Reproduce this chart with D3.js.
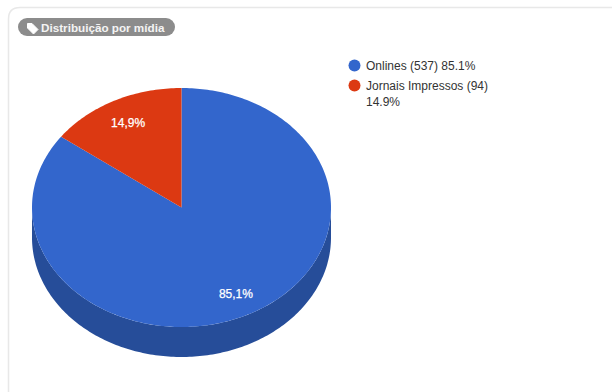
<!DOCTYPE html>
<html>
<head>
<meta charset="utf-8">
<script src="https://cdn.jsdelivr.net/npm/d3@7/dist/d3.min.js"></script>
<style>
html,body{margin:0;padding:0;background:#fff;overflow:hidden}
svg{display:block;font-family:"Liberation Sans",Arial,sans-serif}
</style>
</head>
<body>
<svg id="chart" width="612" height="392"></svg>
<script>
const categories = ["Onlines", "Jornais Impressos"];
const counts = [537, 94];
const legendPercents = ["85.1%", "14.9%"];
const sliceLabels = ["85,1%", "14,9%"];
const sliceColors = ["#3366cc", "#dc3912"];
const sideColors = ["#264d99", "#a52b0e"];
const chartTitle = "Distribuição por mídia";

const svg = d3.select("#chart");

// Card outline behind the chart
svg.append("path")
  .attr("d", "M612,7.5H20Q8.5,7.5 8.5,19V392")
  .attr("fill", "none").attr("stroke", "#e8e8e8").attr("stroke-width", 1.5);

// Title badge with tag icon
svg.append("rect")
  .attr("x", 18).attr("y", 18).attr("width", 157).attr("height", 18).attr("rx", 9)
  .attr("fill", "#8c8c8c");
svg.append("path")
  .attr("d", "M27.5,23.5h4.5l6,6l-4.5,4.5l-6,-6z")
  .attr("fill", "#fff").attr("stroke", "#fff").attr("stroke-width", 1).attr("stroke-linejoin", "round");
svg.append("text")
  .attr("x", 41).attr("y", 31.5)
  .attr("font-size", 11.7).attr("font-weight", 700).attr("fill", "#f4f4f4")
  .text(chartTitle);

// Tilted pie geometry
const cx = 181.5, cy = 207.5, rx = 149.5, ry = 119.5, depth = 30;
const pie = d3.pie().sort(null).value(d => d);
const slices = pie(counts);
const ellipse = (a, dy = 0) => [cx + rx * Math.sin(a), cy - ry * Math.cos(a) + dy];
const pathOf = d3.line();
const step = Math.PI / 180;

function sampleAngles(a0, a1) {
  const n = Math.max(1, Math.ceil((a1 - a0) / step));
  return d3.range(n + 1).map(i => a0 + (a1 - a0) * i / n);
}

// Extruded rim: only the front half of the ellipse shows
const rimLayer = svg.append("g");
slices.forEach((s, i) => {
  const a0 = Math.max(s.startAngle, Math.PI / 2);
  const a1 = Math.min(s.endAngle, 3 * Math.PI / 2);
  if (a1 <= a0) return;
  const angles = sampleAngles(a0, a1);
  const pts = angles.map(a => ellipse(a)).concat(angles.slice().reverse().map(a => ellipse(a, depth)));
  rimLayer.append("path").attr("d", pathOf(pts) + "Z").attr("fill", sideColors[i]);
});

// Top face
const faceLayer = svg.append("g");
slices.forEach((s, i) => {
  const pts = [[cx, cy]].concat(sampleAngles(s.startAngle, s.endAngle).map(a => ellipse(a)));
  faceLayer.append("path").attr("d", pathOf(pts) + "Z").attr("fill", sliceColors[i]);
});

// Slice percentages at the middle of each slice
slices.forEach((s, i) => {
  const mid = (s.startAngle + s.endAngle) / 2;
  const f = 0.8;
  faceLayer.append("text")
    .attr("x", cx + rx * f * Math.sin(mid) + 0.5)
    .attr("y", cy - ry * f * Math.cos(mid) + 5)
    .attr("text-anchor", "middle")
    .attr("font-size", 12).attr("fill", "#fff")
    .attr("stroke", "#fff").attr("stroke-width", 0.25)
    .text(sliceLabels[i]);
});

// Legend
const legendX = 366;
const legend = svg.append("g").attr("font-size", 12).attr("fill", "#333");
legend.append("circle").attr("cx", 354.5).attr("cy", 65.5).attr("r", 6).attr("fill", sliceColors[0]);
legend.append("text").attr("x", legendX).attr("y", 70)
  .text(`${categories[0]} (${counts[0]}) ${legendPercents[0]}`);
legend.append("circle").attr("cx", 354.5).attr("cy", 85.5).attr("r", 6).attr("fill", sliceColors[1]);
legend.append("text").attr("x", legendX).attr("y", 90)
  .text(`${categories[1]} (${counts[1]})`);
legend.append("text").attr("x", legendX).attr("y", 106).text(legendPercents[1]);
</script>
</body>
</html>
